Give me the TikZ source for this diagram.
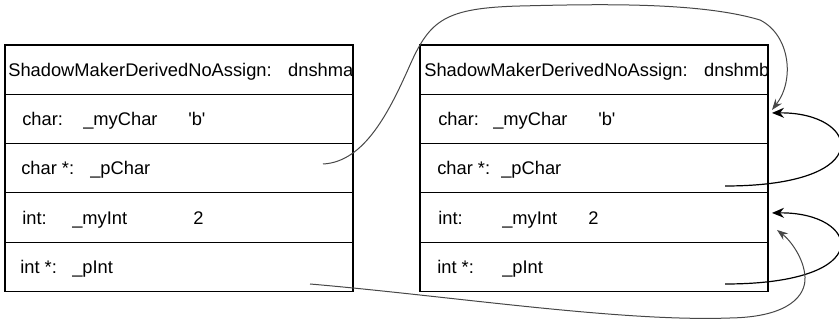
\documentclass[tikz,border=0pt]{standalone}
\usepackage{fontspec}
\setmainfont{Liberation Sans}
\usetikzlibrary{arrows.meta, positioning}

\begin{document}
\begin{tikzpicture}[x = 1pt, y = -1pt, % pixel units, y going down
        > = Stealth, % arrow head style
        semithick % line style
    ]

    \tikzstyle{row}=[draw = black, line width = 1.2pt, rectangle, inner sep = 0pt,
    outer sep = 0pt, minimum width = 348pt, minimum height = 49.3pt]
    \tikzstyle{txt}=[inner sep = 0pt, anchor = base west,
    font = \fontsize{18.3}{21}\selectfont]
    \tikzstyle{ptr}=[->, line width = 1.2pt, >={Stealth[length=12pt, width=10pt]}]
    \tikzstyle{gptr}=[->, line width = 1pt, draw = black!72,
    >={Stealth[length=11pt, width=8pt]}]

    \useasboundingbox (0,0) rectangle (839,320);

    % object dnshma
    \node[row, anchor = north west] (a0) at (5,45) {};
    \node[row, below = 0pt of a0] (a1) {};
    \node[row, below = 0pt of a1] (a2) {};
    \node[row, below = 0pt of a2] (a3) {};
    \node[row, below = 0pt of a3] (a4) {};

    % object dnshmb
    \node[row, anchor = north west] (b0) at (420,45) {};
    \node[row, below = 0pt of b0] (b1) {};
    \node[row, below = 0pt of b1] (b2) {};
    \node[row, below = 0pt of b2] (b3) {};
    \node[row, below = 0pt of b3] (b4) {};

    % texts of dnshma
    \node[txt] (a0t) at ([xshift=3pt, yshift=-6.5pt]a0.west)
    {ShadowMakerDerivedNoAssign:\hspace{16.5pt}dnshma};
    \node[txt] (a1t) at ([xshift=17pt, yshift=-6.5pt]a1.west) {char:};
    \node[txt] (a1n) at ([xshift=78pt, yshift=-6.5pt]a1.west) {\_myChar};
    \node[txt] (a1v) at ([xshift=183pt, yshift=-6.5pt]a1.west)
    {\textquotesingle b\textquotesingle};
    \node[txt] (a2t) at ([xshift=16pt, yshift=-6.5pt]a2.west) {char *:};
    \node[txt] (a2n) at ([xshift=85pt, yshift=-6.5pt]a2.west) {\_pChar};
    \node[txt] (a3t) at ([xshift=17pt, yshift=-6.5pt]a3.west) {int:};
    \node[txt] (a3n) at ([xshift=67pt, yshift=-6.5pt]a3.west) {\_myInt};
    \node[txt] (a3v) at ([xshift=188pt, yshift=-6.5pt]a3.west) {2};
    \node[txt] (a4t) at ([xshift=15pt, yshift=-6.5pt]a4.west) {int *:};
    \node[txt] (a4n) at ([xshift=67pt, yshift=-6.5pt]a4.west) {\_pInt};

    % texts of dnshmb
    \node[txt] (b0t) at ([xshift=4pt, yshift=-6.5pt]b0.west)
    {ShadowMakerDerivedNoAssign:\hspace{16.5pt}dnshmb};
    \node[txt] (b1t) at ([xshift=18pt, yshift=-6.5pt]b1.west) {char:};
    \node[txt] (b1n) at ([xshift=73pt, yshift=-6.5pt]b1.west) {\_myChar};
    \node[txt] (b1v) at ([xshift=178pt, yshift=-6.5pt]b1.west)
    {\textquotesingle b\textquotesingle};
    \node[txt] (b2t) at ([xshift=17pt, yshift=-6.5pt]b2.west) {char *:};
    \node[txt] (b2n) at ([xshift=81pt, yshift=-6.5pt]b2.west) {\_pChar};
    \node[txt] (b3t) at ([xshift=18pt, yshift=-6.5pt]b3.west) {int:};
    \node[txt] (b3n) at ([xshift=82pt, yshift=-6.5pt]b3.west) {\_myInt};
    \node[txt] (b3v) at ([xshift=168pt, yshift=-6.5pt]b3.west) {2};
    \node[txt] (b4t) at ([xshift=17pt, yshift=-6.5pt]b4.west) {int *:};
    \node[txt] (b4n) at ([xshift=82pt, yshift=-6.5pt]b4.west) {\_pInt};

    % pointer tails
    \coordinate (pa) at (323,164);
    \coordinate (qa) at (310,284);
    \coordinate (pb) at (725,186);
    \coordinate (qb) at (725,284);

    \draw[gptr] (pa) .. controls (365,162) and (390,110) .. (410,65)
    .. controls (430,20) and (445,8) .. (520,6)
    .. controls (600,4) and (700,2) .. (760,20)
    .. controls (790,35) and (795,80) .. ([xshift=4pt, yshift=9pt]b1.east);
    \draw[ptr] (pb) .. controls (880,186) and (860,112) .. ([xshift=4pt, yshift=6pt]b1.east);
    \draw[ptr] (qb) .. controls (880,284) and (860,212) .. ([xshift=4pt, yshift=4.6pt]b3.east);
    \draw[gptr] (qa) .. controls (450,296) and (620,322) .. (730,318)
    .. controls (790,317) and (806,295) .. (805,277)
    .. controls (804,258) and (790,240) .. ([xshift=9pt, yshift=-12.4pt]b3.east);
\end{tikzpicture}
\end{document}
